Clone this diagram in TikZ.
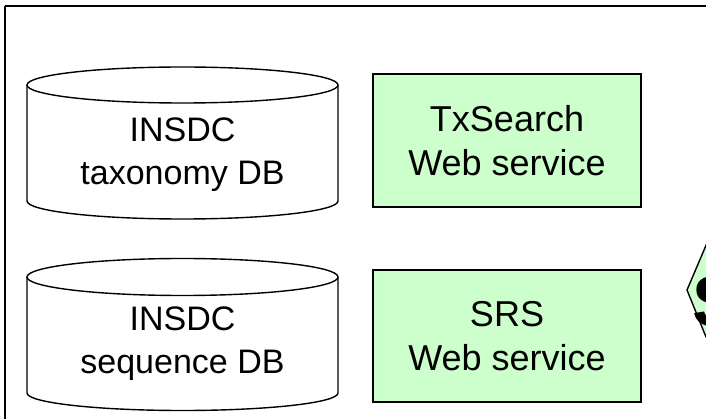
\documentclass[tikz,border=0pt]{standalone}
\usepackage{fontspec}
\setmainfont{Liberation Sans}
\definecolor{svcgreen}{RGB}{204,255,204}
\begin{document}
\begin{tikzpicture}[x=1pt,y=1pt,
  frame/.style={draw=black, line width=2pt},
  cyl/.style={draw=black, line width=1.4pt, fill=white},
  cyltext/.style={align=center, inner sep=0pt, font=\fontsize{34}{43}\selectfont},
  svc/.style={draw=black, line width=1.8pt, fill=svcgreen, align=center,
    inner sep=0pt, minimum width=268pt, font=\fontsize{36}{44}\selectfont},
  hexa/.style={draw=black, line width=1.4pt, fill=svcgreen}]
\useasboundingbox (0,0) rectangle (706,-419);
\clip (0,0) rectangle (706,-419);
% outer frame
\draw[frame] (5,-6) -- (720,-6);
\draw[frame] (5,-6) -- (5,-430);
% cylinder 1
\coordinate (c1top) at (182.5,-85);
\draw[cyl] (27,-85) -- (27,-201) arc[start angle=180, end angle=360, x radius=155.5, y radius=18] -- (338,-85);
\draw[cyl] (c1top) ellipse[x radius=155.5, y radius=18];
\node[cyltext] (tax) at (182.5,-155) {INSDC\\taxonomy DB};
% cylinder 2
\coordinate (c2top) at (182.5,-277);
\draw[cyl] (27,-277) -- (27,-393) arc[start angle=180, end angle=360, x radius=155.5, y radius=17.5] -- (338,-277);
\draw[cyl] (c2top) ellipse[x radius=155.5, y radius=18.5];
\node[cyltext] (seq) at (182.5,-344) {INSDC\\sequence DB};
% services
\node[svc, minimum height=133pt] (tx) at (507,-140.5) {TxSearch\\Web service};
\node[svc, minimum height=132pt] (srs) at (507,-336) {SRS\\Web service};
% partial hexagon
\draw[hexa] (730,-243) -- (707,-243) -- (687,-290) -- (706,-337) -- (730,-337);
\node[anchor=base west, inner sep=0pt, font=\fontsize{72}{80}\selectfont\bfseries] (s) at (692,-326) {S};
\end{tikzpicture}
\end{document}
